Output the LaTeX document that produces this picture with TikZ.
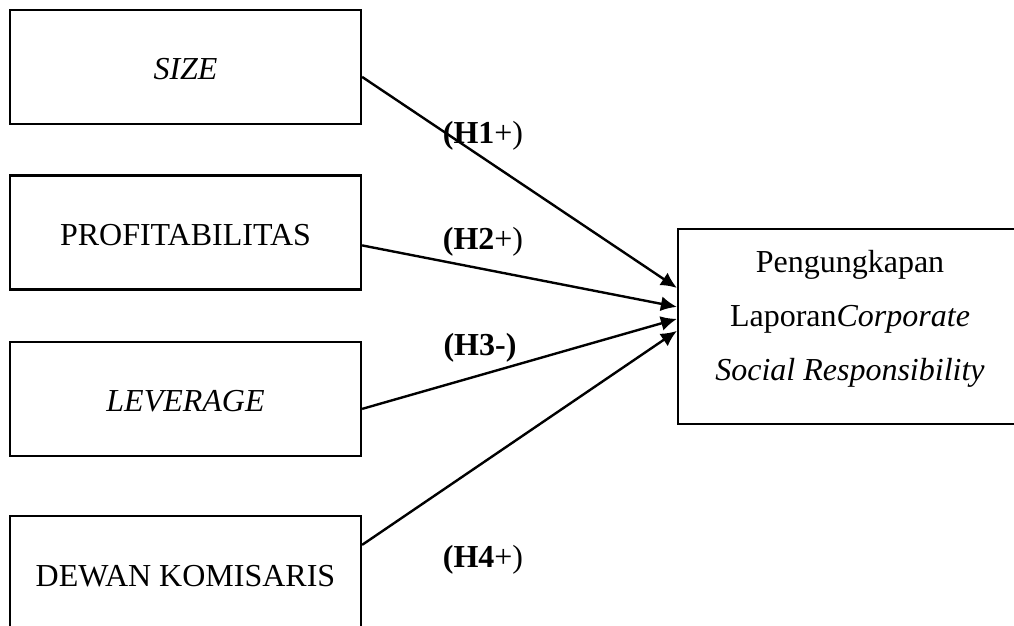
\documentclass[tikz,border=0pt]{standalone}
\usepackage{fontspec}
\setmainfont{Liberation Serif}
\usetikzlibrary{arrows.meta,calc}
\begin{document}
\begin{tikzpicture}[x=0.5pt,y=-0.5pt,
  box/.style={draw,line width=1.1pt,inner sep=0pt,minimum width=175.5pt,minimum height=57pt,
    font=\fontsize{16pt}{19pt}\selectfont,text height=13pt,text depth=0pt},
  conn/.style={line width=1.2pt,-{Latex[length=8pt,width=7.5pt]}},
  hyp/.style={font=\fontsize{16pt}{19pt}\selectfont}]
\useasboundingbox (0,0) rectangle (1014,626);
\clip (0,0) rectangle (1014,626);
\node[box] (size) at (185.5,67) {\textit{SIZE}};
\node[box] (prof) at (185.5,232.5) {PROFITABILITAS};
\node[box] (lev) at (185.5,399) {\textit{LEVERAGE}};
\node[box] (dk) at (185.5,573) {DEWAN KOMISARIS};
\node[draw,line width=1.1pt,inner sep=0pt,minimum width=172pt,minimum height=97.5pt] (csr) at (850,326.5) {};
\node[align=center,font=\fontsize{16pt}{27pt}\selectfont] (csrt) at (850,319)
  {Pengungkapan\\Laporan\textit{Corporate}\\\textit{Social Responsibility}};
\draw[conn] ($(size.north east)+(0,68)$) -- ($(csr.north west)+(0,60)$);
\draw[conn] ($(prof.north east)+(0,71)$) -- ($(csr.north west)+(0,79)$);
\draw[conn] ($(lev.north east)+(0,68)$) -- ($(csr.north west)+(0,91)$);
\draw[conn] ($(dk.north east)+(0,30)$) -- ($(csr.north west)+(0,103)$);
\node[hyp] (h1) at (483,136) {\textbf{(H1}+)};
\node[hyp] (h2) at (483,242) {\textbf{(H2}+)};
\node[hyp] (h3) at (480,348) {\textbf{(H3-)}};
\node[hyp] (h4) at (483,560) {\textbf{(H4}+)};
\end{tikzpicture}
\end{document}
